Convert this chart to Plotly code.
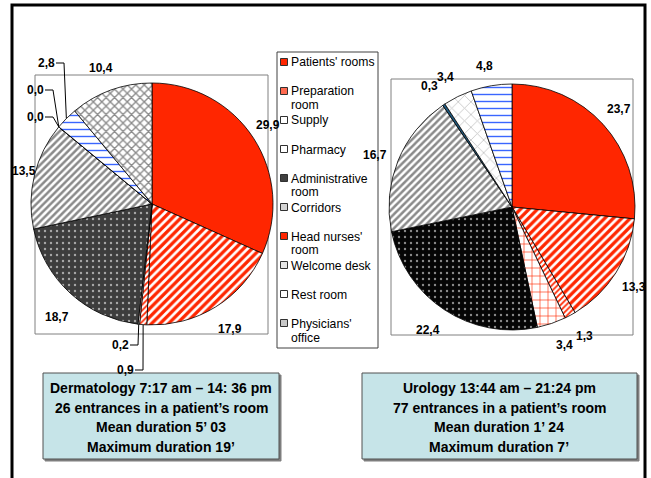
import math
import plotly.graph_objects as go

W, H = 651, 478

# ---- data -------------------------------------------------------------
categories = ["Patients' rooms", "Preparation room", "Supply", "Pharmacy",
              "Administrative room", "Corridors", "Head nurses' room",
              "Welcome desk", "Rest room", "Physicians' office"]

# share of time spent in each location (%)
derm_values = [29.9, 17.9, 0.9, 0.2, 18.7, 13.5, 0.0, 0.0, 2.8, 10.4]
uro_labels = categories[:9]
uro_values = [23.7, 13.3, 1.3, 3.4, 22.4, 16.7, 0.3, 3.4, 4.8]

legend_lines = [["Patients' rooms"], ["Preparation", "room"], ["Supply"],
                ["Pharmacy"], ["Administrative", "room"], ["Corridors"],
                ["Head nurses'", "room"], ["Welcome desk"], ["Rest room"],
                ["Physicians'", "office"]]

derm_info = ["Dermatology 7:17 am \u2013 14: 36 pm",
             "26 entrances in a patient\u2019s room",
             "Mean duration 5\u2019 03",
             "Maximum duration 19\u2019"]
uro_info = ["Urology 13:44 am \u2013 21:24 pm",
            "77 entrances in a patient\u2019s room",
            "Mean duration 1\u2019 24",
            "Maximum duration 7\u2019"]

# ---- styles -------------------------------------------------------------
RED = "#FF2600"
FONT = "Liberation Sans, Arial, sans-serif"

# (pattern shape, fg, bg, size, solidity) per slice
derm_style = [
    ("", RED, RED, 8, 0.3),
    ("/", RED, "white", 6, 0.55),
    ("/", RED, "white", 4, 0.45),
    ("+", RED, "white", 6, 0.2),
    (".", "#a8a8a8", "#3d3d3d", 6, 0.12),
    ("/", "#8a8a8a", "white", 5, 0.5),
    ("", RED, RED, 8, 0.3),
    ("x", "#bdbdbd", "white", 8, 0.2),
    ("-", "#3a66ff", "white", 7, 0.2),
    ("x", "#8a8a8a", "white", 6, 0.4),
]
uro_style = [
    ("", RED, RED, 8, 0.3),
    ("/", RED, "white", 6, 0.55),
    ("/", RED, "white", 4, 0.45),
    ("+", RED, "white", 8, 0.15),
    (".", "#8a8a8a", "#050505", 6, 0.12),
    ("/", "#8a8a8a", "white", 5, 0.5),
    ("", "#1d5a80", "#1d5a80", 8, 0.3),
    ("x", "#c4c4c4", "white", 9, 0.18),
    ("-", "#3a66ff", "white", 7, 0.2),
]

legend_icon = ["#FF2600", "#FF6a50", "white", "white", "#404040", "#d4d4d4",
               "#FF2600", "#e4e4e4", "white", "#c8c8c8"]

# pie geometry (pixels)
derm_c, derm_r = (152, 204), 121
uro_c, uro_r = (512, 207), 123

# label centres (pixels), one per slice
derm_label_pos = [(268, 125), (230, 329), (125, 370), (120, 345), (57, 317),
                  (24, 171), (35, 90), (35, 117), (46, 63), (101, 68)]
derm_leader = [False, False, True, True, False, False, True, True, True, False]
uro_label_pos = [(619, 109), (634, 287), (584, 336), (564, 345), (428, 330),
                 (375, 155), (429, 86), (445, 77), (484, 66)]


def px(x):
    return x / W


def py(y):
    return 1 - y / H


def fmt(v):
    return f"{v:.1f}".replace(".", ",")


def pie(labels, values, style, centre, r):
    cx, cy = centre
    return go.Pie(
        labels=labels, values=values, sort=False, direction="clockwise",
        rotation=0, textinfo="none", showlegend=False,
        hovertemplate="%{label}: %{value}<extra></extra>",
        domain=dict(x=[px(cx - r), px(cx + r)], y=[py(cy + r), py(cy - r)]),
        marker=dict(
            colors=[s[2] for s in style],
            line=dict(color="black", width=0.8),
            pattern=dict(shape=[s[0] for s in style],
                         fgcolor=[s[1] for s in style],
                         bgcolor=[s[2] for s in style],
                         size=[s[3] for s in style],
                         solidity=[s[4] for s in style]),
        ),
    )


fig = go.Figure([pie(categories, derm_values, derm_style, derm_c, derm_r),
                 pie(uro_labels, uro_values, uro_style, uro_c, uro_r)])

shapes, annotations = [], []


def rect(x0, y0, x1, y1, line="#808080", width=1, fill=None, layer="below"):
    shapes.append(dict(type="rect", xref="paper", yref="paper",
                       x0=px(x0), x1=px(x1), y0=py(y1), y1=py(y0),
                       line=dict(color=line, width=width),
                       fillcolor=fill, layer=layer))


def text(x, y, s, size=12, bold=True, xanchor="center"):
    annotations.append(dict(x=px(x), y=py(y), xref="paper", yref="paper",
                            text=s, showarrow=False, xanchor=xanchor,
                            yanchor="middle", borderpad=0,
                            font=dict(family=FONT, size=size, color="black",
                                      weight="bold" if bold else "normal")))


# outer frame and plot-area boxes
rect(12, 5, 645, 500, line="black", width=3)
rect(35, 75, 268, 334)
rect(391, 79, 633, 335)


def slice_point(values, i, centre, r):
    tot = sum(values)
    mid = (sum(values[:i]) + values[i] / 2) / tot * 2 * math.pi
    return centre[0] + r * math.sin(mid), centre[1] - r * math.cos(mid)


# value labels, with leader lines where the slice is too thin
for i, v in enumerate(derm_values):
    lx, ly = derm_label_pos[i]
    text(lx, ly, fmt(v))
    if derm_leader[i]:
        ex, ey = slice_point(derm_values, i, derm_c, derm_r)
        sx = lx + 10
        shapes.append(dict(type="path", xref="paper", yref="paper",
                           path=f"M {px(sx)},{py(ly)} L {px(sx + 8)},{py(ly)} "
                                f"L {px(ex)},{py(ey)}",
                           line=dict(color="black", width=1)))

for i, v in enumerate(uro_values):
    lx, ly = uro_label_pos[i]
    text(lx, ly, fmt(v))

# legend
rect(277, 52, 378, 348, line="#404040", width=1, fill="white")
for k, lines in enumerate(legend_lines):
    y0 = 62.5 + 29.0 * k
    rect(280.5, y0 - 4, 287.5, y0 + 3, line="#303030", width=1,
         fill=legend_icon[k], layer="above")
    for j, s in enumerate(lines):
        text(289.5, y0 + 14 * j, s, size=12.2, bold=False, xanchor="left")

# information boxes
for (x0, x1), info in (((43, 279), derm_info), ((362, 637), uro_info)):
    rect(x0 + 2, 375, x1 + 2, 461, line="#7f7f7f", width=1, fill="#7f7f7f")
    rect(x0, 373, x1, 459, line="#505050", width=1, fill="#C6E4E8")
    for j, s in enumerate(info):
        text((x0 + x1) / 2, 388 + 19.7 * j, s, size=14)

fig.update_layout(width=W, height=H, margin=dict(l=0, r=0, t=0, b=0),
                  paper_bgcolor="white", plot_bgcolor="white",
                  shapes=shapes, annotations=annotations)

fig.write_html("out.html")
